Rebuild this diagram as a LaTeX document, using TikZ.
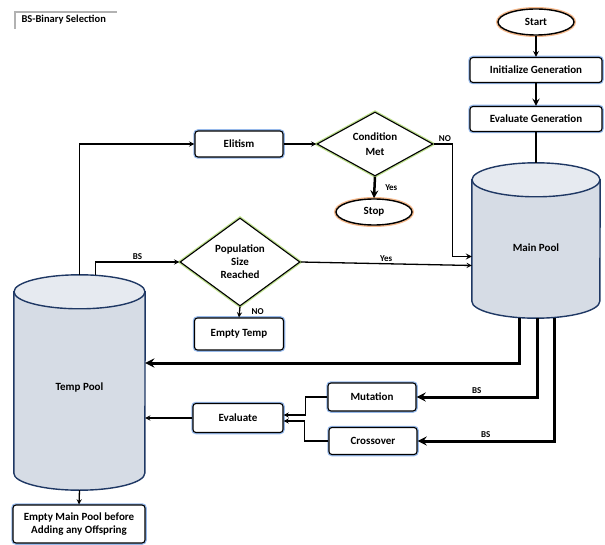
\documentclass[tikz,border=0pt]{standalone}
\usepackage{fontspec}
\setmainfont{Carlito}
\usetikzlibrary{shapes.geometric,backgrounds}
\definecolor{poolfill}{RGB}{214,220,229}
\definecolor{pooltop}{RGB}{230,234,240}
\definecolor{poolline}{RGB}{31,56,100}
\definecolor{glowblue}{RGB}{150,185,235}
\definecolor{gloworange}{RGB}{245,185,140}
\definecolor{glowgreen}{RGB}{190,225,140}

\begin{document}
\begin{tikzpicture}[x=1pt,y=-1pt,>=stealth,
	font=\fontsize{11}{13}\selectfont\bfseries,
	proc/.style={draw,rounded corners=3pt,line width=1.1pt,fill=white,preaction={draw=glowblue,line width=3.5pt},align=center,inner sep=2pt},
	term/.style={ellipse,draw,line width=1.4pt,fill=white,preaction={draw=gloworange,line width=4pt},minimum width=76pt,minimum height=26pt,inner sep=0pt},
	decide/.style={diamond,draw,line width=1.1pt,fill=white,preaction={draw=glowgreen,line width=3.5pt},align=center,inner sep=0pt},
	poolbox/.style={inner sep=0pt},
	pool/.style={draw=poolline,line width=1.4pt},
	lbl/.style={font=\fontsize{9}{10}\selectfont\bfseries,inner sep=1.5pt}]
	\useasboundingbox (0,0) rectangle (605,545);
	\draw[gray!60,line width=1.5pt] (15,29) -- (15,12) -- (117,12);
	\node[font=\fontsize{10.5}{12}\selectfont\bfseries,anchor=west] (legend) at (18,20) {BS-Binary Selection};
	\node[term] (start) at (536,22) {Start};
	\node[proc,minimum width=132pt,minimum height=25pt] (init) at (536,70) {Initialize Generation};
	\node[proc,minimum width=132pt,minimum height=25pt] (eval) at (536,119) {Evaluate Generation};
	\node[poolbox,minimum width=128pt,minimum height=155pt,label={[yshift=-7pt]center:Main Pool}] (main) at (536,240.5) {};
	\node[poolbox,minimum width=131pt,minimum height=215pt,label={[yshift=-5pt]center:Temp Pool}] (temp) at (79.5,382.5) {};
	\begin{pgfonlayer}{background}
		\draw[pool,fill=poolfill] ([yshift=-17pt]main.north west) -- ([yshift=17pt]main.south west) arc[start angle=180,end angle=360,x radius=64pt,y radius=17pt] -- ([yshift=-17pt]main.north east) -- cycle;
		\draw[pool,fill=pooltop] ([yshift=-17pt]main.north) ellipse[x radius=64pt,y radius=17pt];
		\draw[pool,fill=poolfill] ([yshift=-17pt]temp.north west) -- ([yshift=17pt]temp.south west) arc[start angle=180,end angle=360,x radius=65.5pt,y radius=17pt] -- ([yshift=-17pt]temp.north east) -- cycle;
		\draw[pool,fill=pooltop] ([yshift=-17pt]temp.north) ellipse[x radius=65.5pt,y radius=17pt];
	\end{pgfonlayer}
	\node[proc,minimum width=88pt,minimum height=26pt] (elit) at (239,144) {Elitism};
	\node[decide,minimum width=116pt,minimum height=64pt,aspect=1.8] (cond) at (375,144) {Condition\\[2pt]Met};
	\node[term] (stop) at (374,212) {Stop};
	\node[decide,minimum width=120pt,minimum height=88pt,aspect=1.36] (pop) at (240,262) {Population\\Size\\Reached};
	\node[proc,minimum width=89pt,minimum height=32pt] (etemp) at (239,334) {Empty Temp};
	\node[proc,minimum width=88pt,minimum height=28pt] (mut) at (372,397) {Mutation};
	\node[proc,minimum width=88pt,minimum height=27pt] (cross) at (373,441) {Crossover};
	\node[proc,minimum width=90pt,minimum height=29pt] (evalt) at (238,418) {Evaluate};
	\node[proc,minimum width=132pt,minimum height=38pt] (emain) at (79,524) {Empty Main Pool before\\Adding any Offspring};
	\draw[->,line width=1.6pt] (start) -- (init);
	\draw[->,line width=2.2pt] (init) -- (eval);
	\draw[line width=2.2pt] (eval) -- (main.north);
	\draw[->,line width=1.4pt] (temp.north) |- (elit.west);
	\draw[->,line width=1.4pt] ([xshift=16pt]temp.north) |- node[lbl,above,pos=0.75] {BS} (pop.west);
	\draw[->,line width=1.4pt] (elit) -- (cond);
	\draw[->,line width=2.5pt] (cond.south) -- (stop.north) node[lbl,midway,right=8pt] {Yes};
	\draw[->,line width=1.6pt] (cond.east) -- node[lbl,above,pos=0.6] {NO} ++(19,0) |- ([yshift=-16pt]main.west);
	\draw[->,line width=1.3pt] (pop.east) -- node[lbl,above] {Yes} ([yshift=-25pt]main.west);
	\draw[->,line width=1.3pt] (pop.south) -- (etemp.north) node[lbl,midway,right=10pt] {NO};
	\draw[->,line width=3pt] ([xshift=-17pt]main.south) |- ([yshift=19.5pt]temp.east);
	\draw[->,line width=3pt] ([xshift=1pt]main.south) |- node[lbl,above,pos=0.75] {BS} (mut.east);
	\draw[->,line width=3pt] ([xshift=18pt]main.south) |- node[lbl,above,pos=0.75] {BS} (cross.east);
	\draw[->,line width=1.3pt] (mut.west) -- ++(-22,0) |- ([yshift=3pt]evalt.east);
	\draw[->,line width=1.3pt] (cross.west) -- ++(-24,0) |- ([yshift=-3pt]evalt.east);
	\draw[->,line width=1.3pt] (evalt.west) -- (evalt.west -| temp.east);
	\draw[->,line width=1.3pt] (temp.south) -- (emain.north);
\end{tikzpicture}
\end{document}
